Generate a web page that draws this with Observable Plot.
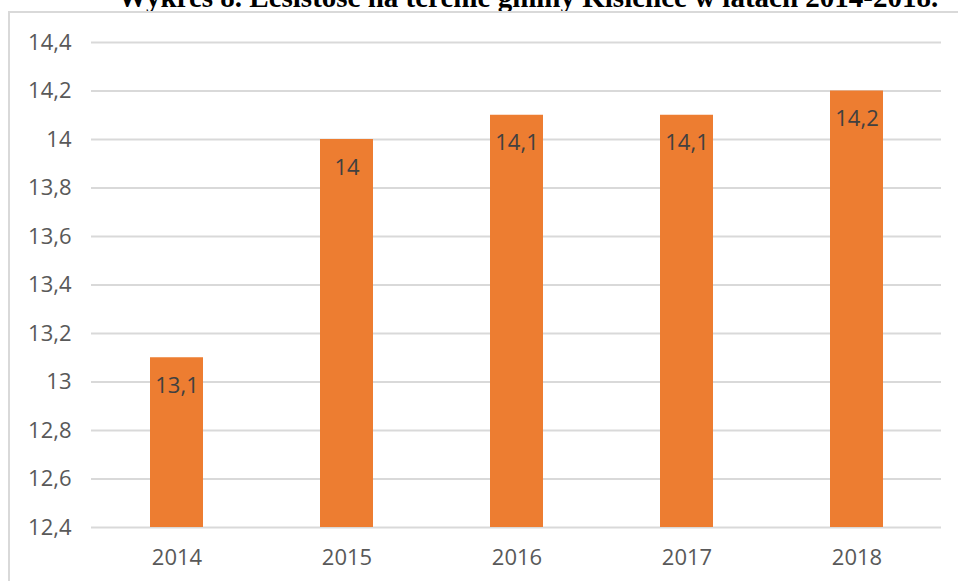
<!DOCTYPE html>
<html>
<head>
<meta charset="utf-8">
<script src="https://cdn.jsdelivr.net/npm/d3@7"></script>
<script src="https://cdn.jsdelivr.net/npm/@observablehq/plot@0.6"></script>
<style>
  html, body { margin: 0; padding: 0; background: #fff; overflow: hidden; }
  #wrap { position: relative; width: 958px; height: 581px; }
  #title { position: absolute; left: 118px; top: -17px; font-family: "Liberation Serif", serif; font-weight: bold; font-size: 29px; line-height: 29px; white-space: nowrap; color: #000; }
  #frame { position: absolute; left: 8px; top: 11px; width: 960px; height: 580px; border: 2px solid #d9d9d9; box-sizing: border-box; }
  #chart { position: absolute; left: 0; top: 0; }
</style>
</head>
<body>
<div id="wrap">
  <div id="title">Wykres 8. Lesistość na terenie gminy Kisielice w latach 2014-2018.</div>
  <div id="frame"></div>
  <div id="chart"></div>
</div>
<script>
const years = ["2014", "2015", "2016", "2017", "2018"];
const values = [13.1, 14.0, 14.1, 14.1, 14.2];
const yTicks = [12.4, 12.6, 12.8, 13.0, 13.2, 13.4, 13.6, 13.8, 14.0, 14.2, 14.4];

const data = years.map((y, i) => ({year: y, value: values[i]}));
const fmt = d => String(+d.toFixed(1)).replace(".", ",");

const chart = Plot.plot({
  width: 958,
  height: 581,
  marginLeft: 91,
  marginRight: 17,
  marginTop: 42,
  marginBottom: 54,
  style: {fontFamily: "'Open Sans', sans-serif", fontSize: "22px", color: "#595959", background: "transparent"},
  x: {domain: years, paddingInner: 0.69, paddingOuter: 0.345, label: null, tickSize: 0, tickPadding: 22},
  y: {domain: [12.4, 14.4], ticks: yTicks, tickFormat: fmt, label: null, tickSize: 0, tickPadding: 20},
  marks: [
    Plot.gridY(yTicks, {stroke: "#d9d9d9", strokeOpacity: 1, strokeWidth: 2}),
    Plot.barY(data, {x: "year", y1: 12.4, y2: "value", fill: "#ED7D31"}),
    Plot.text(data, {x: "year", y: "value", text: d => fmt(d.value), dy: 28, fill: "#404040", fontSize: 22})
  ]
});
document.getElementById("chart").appendChild(chart);
</script>
</body>
</html>
